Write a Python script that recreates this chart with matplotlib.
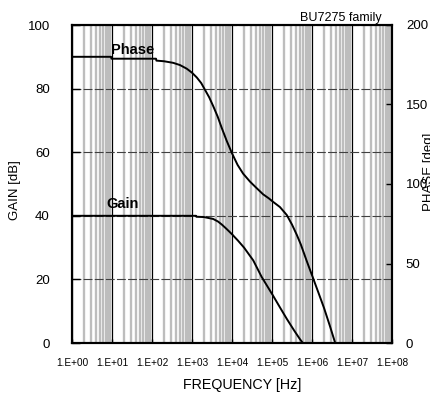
import numpy as np
import matplotlib
matplotlib.use("Agg")
import matplotlib.pyplot as plt
from matplotlib.ticker import LogLocator, FuncFormatter, NullFormatter, MultipleLocator

plt.rcParams['font.family'] = ['Liberation Sans', 'DejaVu Sans']

# Gain curve (frequency in Hz, gain in dB)
gain_freq = [1, 1259, 1290, 1995, 3388, 4467, 5623, 7413, 1.0e4, 1.41e4, 2.0e4,
             3.39e4, 5.5e4, 1.05e5, 1.58e5, 2.34e5, 3.55e5, 5.0e5, 5.9e5]
gain_db = [40, 40, 39.7, 39.6, 39.0, 38.2, 37.2, 35.8, 34.2, 32.2, 30.0,
           26.0, 20.8, 15.0, 11.2, 7.6, 4.0, 1.2, 0]

# Phase curve (frequency in Hz, phase in deg)
phase_freq = [1, 9.5, 9.7, 126, 129, 200, 339, 501, 741, 1000, 1318, 1698, 2138,
              2692, 3388, 4365, 5495, 7413, 1.0e4, 1.38e4, 1.9e4, 2.82e4, 3.98e4,
              6.0e4, 8.3e4, 1.05e5, 1.58e5, 2.34e5, 3.16e5, 4.17e5, 5.25e5,
              7.4e5, 1.05e6, 1.48e6, 2.0e6, 2.82e6, 3.8e6]
phase_deg = [180, 180, 178.8, 178.8, 177.6, 177.2, 176.2, 174.8, 172.5, 170, 167, 163.5, 159,
             154.5, 149, 142.5, 135.5, 127, 119.3, 112, 106.5, 101.5, 97.8,
             93.5, 91, 88.9, 85.5, 80.5, 74.5, 68, 62,
             51.5, 41.2, 31, 22, 10.5, 0]

fig = plt.figure(figsize=(4.31, 3.96), dpi=100)
ax = fig.add_axes([72 / 431, 53 / 396, 320 / 431, 318 / 396])
ax2 = ax.twinx()

ax.set_xscale('log')
ax.set_xlim(1, 1e8)
ax.set_ylim(0, 100)
ax2.set_ylim(0, 200)

# grid: light gray minor lines, black decade lines, dashed horizontal lines
ax.xaxis.set_major_locator(LogLocator(base=10, numticks=20))
ax.xaxis.set_minor_locator(LogLocator(base=10, subs=np.arange(2, 10), numticks=20))
ax.xaxis.set_minor_formatter(NullFormatter())
ax.grid(axis='x', which='minor', color='#bdbdbd', lw=1.7)
ax.grid(axis='x', which='major', color='black', lw=0.9)
ax.grid(axis='y', which='major', color='#404040', lw=0.8, ls=(0, (8, 2)))
ax.set_axisbelow(True)

ax.xaxis.set_major_formatter(FuncFormatter(lambda v, p: "1.E+%02d" % int(round(np.log10(v)))))
ax.yaxis.set_major_locator(MultipleLocator(20))
ax2.yaxis.set_major_locator(MultipleLocator(50))

ax.tick_params(axis='x', which='major', direction='in', length=3, width=1, labelsize=7.2, pad=11)
ax.tick_params(axis='x', which='minor', length=0)
ax.tick_params(axis='y', direction='in', length=6, width=1, labelsize=9.5, pad=16)
ax2.tick_params(axis='y', direction='in', length=4, width=1, labelsize=9.5, pad=10)

for a in (ax, ax2):
    for s in a.spines.values():
        s.set_linewidth(1.5)

ax.plot(gain_freq, gain_db, color='black', lw=1.4)
ax2.plot(phase_freq, phase_deg, color='black', lw=1.4)

ax.text(7.1, 42.3, 'Gain', fontsize=10.5, fontweight='bold', ha='left', va='baseline')
ax2.text(9.6, 181.5, 'Phase', fontsize=10.5, fontweight='bold', ha='left', va='baseline')

fig.text(382 / 431, 1 - 21 / 396, 'BU7275 family', fontsize=9, ha='right', va='baseline')
fig.text(242 / 431, 1 - 389 / 396, 'FREQUENCY [Hz]', fontsize=10.3, ha='center', va='baseline')
fig.text(15 / 431, 1 - 190 / 396, 'GAIN [dB]', fontsize=9.5, rotation=90, ha='center', va='center')
fig.text(423 / 431, 1 - 172 / 396, 'PHASE [deg]', fontsize=9.5, rotation=90, ha='left', va='center')

fig.savefig('out.png', dpi=100)
